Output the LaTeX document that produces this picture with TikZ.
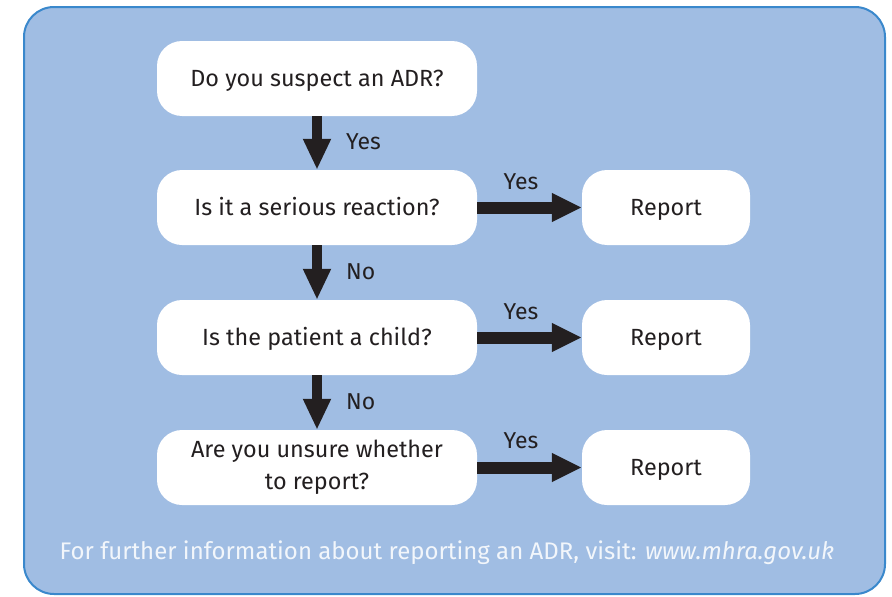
\documentclass[tikz,border=0pt]{standalone}
\usepackage{fontspec}
\setmainfont{Fira Sans}
\usetikzlibrary{arrows.meta}
\definecolor{panelfill}{HTML}{A0BDE3}
\definecolor{panelline}{HTML}{3A88CC}
\definecolor{ink}{HTML}{231F20}
\definecolor{foot}{HTML}{F2F6FB}
\tikzset{
  qbox/.style={fill=white, rounded corners=25pt, minimum width=320pt, minimum height=75pt, inner sep=0pt, align=center, text=ink, font=\fontsize{23.4}{32}\selectfont},
  onel/.style={text height=16.5pt, text depth=0pt},
  rbox/.style={qbox, onel, minimum width=168pt},
  downarrow/.style={draw=ink, line width=10pt, -{Triangle[length=31pt,width=26pt]}},
  rightarrow/.style={draw=ink, line width=12pt, -{Triangle[length=30pt,width=27pt]}},
  lbl/.style={text=ink, font=\fontsize{23}{27}\selectfont, inner sep=0pt, anchor=base},
}
\begin{document}
\begin{tikzpicture}[x=1pt,y=-1pt]
\useasboundingbox (0,0) rectangle (892,597);
\fill[white] (0,0) rectangle (892,597);
\draw[panelline, fill=panelfill, line width=2pt, rounded corners=30pt] (24,7) rectangle (885,594);
% question boxes
\node[qbox, onel] (q1) at (317,78.5) {Do you suspect an ADR?};
\node[qbox, onel] (q2) at (317,207.5) {Is it a serious reaction?};
\node[qbox, onel] (q3) at (317,337.5) {Is the patient a child?};
\node[qbox] (q4) at (317,467.5) {Are you unsure whether\\to report?};
% report boxes
\node[rbox] (r2) at (666,207.5) {Report};
\node[rbox] (r3) at (666,337.5) {Report};
\node[rbox] (r4) at (666,467.5) {Report};
% down arrows
\draw[downarrow] (q1.south) -- (q2.north);
\draw[downarrow] (q2.south) -- (q3.north);
\draw[downarrow] (q3.south) -- (q4.north);
% right arrows
\draw[rightarrow] (q2.east) -- (r2.west);
\draw[rightarrow] (q3.east) -- (r3.west);
\draw[rightarrow] (q4.east) -- (r4.west);
% labels
\node[lbl, anchor=base west] (y1) at (346,149) {Yes};
\node[lbl, anchor=base west] (n2) at (346,279) {No};
\node[lbl, anchor=base west] (n3) at (346,409) {No};
\node[lbl] (y2) at (521,189) {Yes};
\node[lbl] (y3) at (521,319) {Yes};
\node[lbl] (y4) at (521,448) {Yes};
% footer
\node[text=foot, font=\fontsize{24}{28}\selectfont, inner sep=0pt, anchor=base] (ft) at (447,559) {For further information about reporting an ADR, visit: \textit{www.mhra.gov.uk}};
\end{tikzpicture}
\end{document}
